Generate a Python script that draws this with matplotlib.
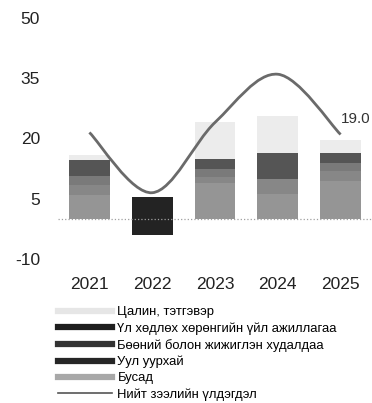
import numpy as np
import matplotlib
matplotlib.use('Agg')
import matplotlib.pyplot as plt
from matplotlib.path import Path
from matplotlib.patches import PathPatch
from matplotlib.lines import Line2D

plt.rcParams['font.family'] = ['Liberation Sans', 'DejaVu Sans']
plt.rcParams['axes.unicode_minus'] = False

years = ['2021', '2022', '2023', '2024', '2025']
# хуримтлалын бүрэлдэхүүн (доороос дээш)
busad = [6.0, 0.0, 9.0, 6.2, 9.5]
uul_uurhai = [2.5, 0.0, 1.5, 3.8, 2.5]
buunii = [2.25, 0.0, 2.0, 0.0, 2.0]
ul_hudluh = [4.0, 5.5, 2.5, 6.5, 2.5]
ul_hudluh_neg = [0.0, -4.0, 0.0, 0.0, 0.0]
tsalin = [1.25, 0.0, 9.0, 9.0, 3.2]
niit = [21.5, 6.5, 24.0, 36.0, 21.0]
last_label = '19.0'

labels = ['Цалин, тэтгэвэр', 'Үл хөдлөх хөрөнгийн үйл ажиллагаа',
          'Бөөний болон жижиглэн худалдаа', 'Уул уурхай', 'Бусад',
          'Нийт зээлийн үлдэгдэл']

fig = plt.figure(figsize=(3.72, 4.03), dpi=100)
ax = fig.add_axes([58/372, (403-259)/403, 1-58/372, (259-18)/403])

x = np.arange(len(years))
w = 0.65
series = [(busad, '#959595'), (uul_uurhai, '#878787'), (buunii, '#7a7a7a'),
          (ul_hudluh, '#555555'), (tsalin, '#ececec')]
bottom = np.zeros(len(years))
for vals, col in series:
    v = np.array(vals)
    ax.bar(x, v, w, bottom=bottom, color=col, linewidth=0)
    bottom += v
# 2022 оны хар багана
ax.bar(x[1], ul_hudluh[1], w, color='#232323', linewidth=0)
ax.bar(x, ul_hudluh_neg, w, color='#232323', linewidth=0)

ax.axhline(0, color='#a0a0a0', ls=':', lw=0.9)

# гөлгөр шугам (Catmull-Rom -> Bezier)
pts = np.column_stack([x, niit]).astype(float)
verts = [tuple(pts[0])]
codes = [Path.MOVETO]
for i in range(len(pts) - 1):
    p0 = pts[i - 1] if i > 0 else pts[i]
    p1 = pts[i]
    p2 = pts[i + 1]
    p3 = pts[i + 2] if i + 2 < len(pts) else pts[i + 1]
    c1 = p1 + (p2 - p0) / 6
    c2 = p2 - (p3 - p1) / 6
    verts += [tuple(c1), tuple(c2), tuple(p2)]
    codes += [Path.CURVE4] * 3
ax.add_patch(PathPatch(Path(verts, codes), fill=False, edgecolor='#6a6a6a', lw=2.0))
ax.text(4.47, niit[-1] + 2.0, last_label, fontsize=11, color='#333333',
        ha='right', va='bottom')

ax.set_xlim(-0.5, 4.5)
ax.set_ylim(-10, 50)
ax.set_yticks([50, 35, 20, 5, -10])
ax.set_xticks(x)
ax.set_xticklabels(years)
ax.tick_params(length=0, labelsize=12.5, colors='#222222')
ax.tick_params(axis='y', pad=13)
ax.tick_params(axis='x', pad=13)
for s in ax.spines.values():
    s.set_visible(False)

handles = [Line2D([], [], color='#e6e6e6', lw=4.5),
           Line2D([], [], color='#1e1e1e', lw=4.5),
           Line2D([], [], color='#333333', lw=4.5),
           Line2D([], [], color='#262626', lw=4.5),
           Line2D([], [], color='#a8a8a8', lw=4.5),
           Line2D([], [], color='#555555', lw=1.2)]
fig.legend(handles, labels, loc='upper left', bbox_to_anchor=(58/372, (403-306)/403),
           frameon=False, fontsize=9.4, handlelength=4.1, handletextpad=0.45,
           labelspacing=0.31, borderpad=0, borderaxespad=0)

fig.savefig('out.png', dpi=100)
